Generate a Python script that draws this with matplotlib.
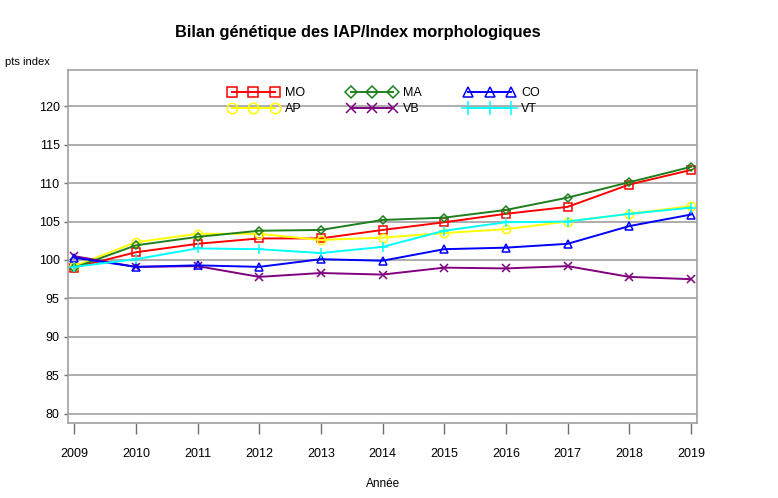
import matplotlib
matplotlib.use("Agg")
import matplotlib.pyplot as plt

plt.rcParams['font.family'] = ['Liberation Sans', 'DejaVu Sans']

years = [2009, 2010, 2011, 2012, 2013, 2014, 2015, 2016, 2017, 2018, 2019]

mo = [99.0, 101.0, 102.1, 102.8, 102.8, 103.9, 104.9, 106.0, 106.9, 109.8, 111.7]
ma = [99.0, 101.9, 103.0, 103.8, 103.9, 105.2, 105.5, 106.5, 108.1, 110.1, 112.1]
co = [100.3, 99.1, 99.3, 99.1, 100.1, 99.9, 101.4, 101.6, 102.1, 104.4, 105.9]
ap = [99.2, 102.3, 103.4, 103.4, 102.6, 102.9, 103.5, 104.0, 105.0, 106.0, 107.0]
vb = [100.5, 99.1, 99.2, 97.8, 98.3, 98.1, 99.0, 98.9, 99.2, 97.8, 97.5]
vt = [99.1, 100.1, 101.5, 101.4, 100.9, 101.7, 103.8, 104.9, 105.0, 106.0, 106.8]

# order gives MO/MA/CO on top row, AP/VB/VT below (legend fills by column)
series = [
    ("MO", mo, "red", "s", 5.5),
    ("AP", ap, "yellow", "o", 6),
    ("MA", ma, "#1f7f1f", "D", 4.5),
    ("VB", vb, "#800080", "x", 6),
    ("CO", co, "blue", "^", 6),
    ("VT", vt, "cyan", "+", 7.5),
]

fig = plt.figure(figsize=(7.78, 4.98), dpi=100)
ax = fig.add_axes([68/778, 1-423/498, (697-68)/778, (423-70)/498])

for name, vals, col, mk, ms in series:
    ax.plot(years, vals, color=col, marker=mk, markersize=ms, mfc='none',
            mec=col, mew=1.1, lw=1.4, label=name)

ax.set_xlim(2008.9, 2019.1)
ax.set_ylim(78.8, 124.7)
ax.set_yticks(range(80, 121, 5))
ax.set_xticks(years)
ax.yaxis.grid(True, color='#a0a0a0', lw=1.2)
ax.set_axisbelow(True)
for s in ax.spines.values():
    s.set_color('#a0a0a0')
    s.set_linewidth(1.2)
ax.tick_params(axis='x', length=8, width=1, color='#707070', labelsize=9, pad=10)
ax.tick_params(axis='y', length=3, width=1, color='#707070', labelsize=9, pad=3)

fig.text(358/778, 1-33/498, "Bilan génétique des IAP/Index morphologiques",
         ha='center', va='center', fontsize=11.8, fontweight='bold')
fig.text(5/778, 1-62/498, "pts index", ha='left', va='center', fontsize=8)
fig.text(383/778, 1-484/498, "Année", ha='center', va='center', fontsize=8.5)

ax.legend(loc='upper left', bbox_to_anchor=(222/778, 1-81/498),
          bbox_transform=fig.transFigure, ncol=3, frameon=False,
          numpoints=3, handlelength=4.0, handletextpad=0.5, markerscale=1.25,
          columnspacing=3.4, labelspacing=0.3, fontsize=9, borderpad=0)

fig.savefig("out.png", dpi=100)
